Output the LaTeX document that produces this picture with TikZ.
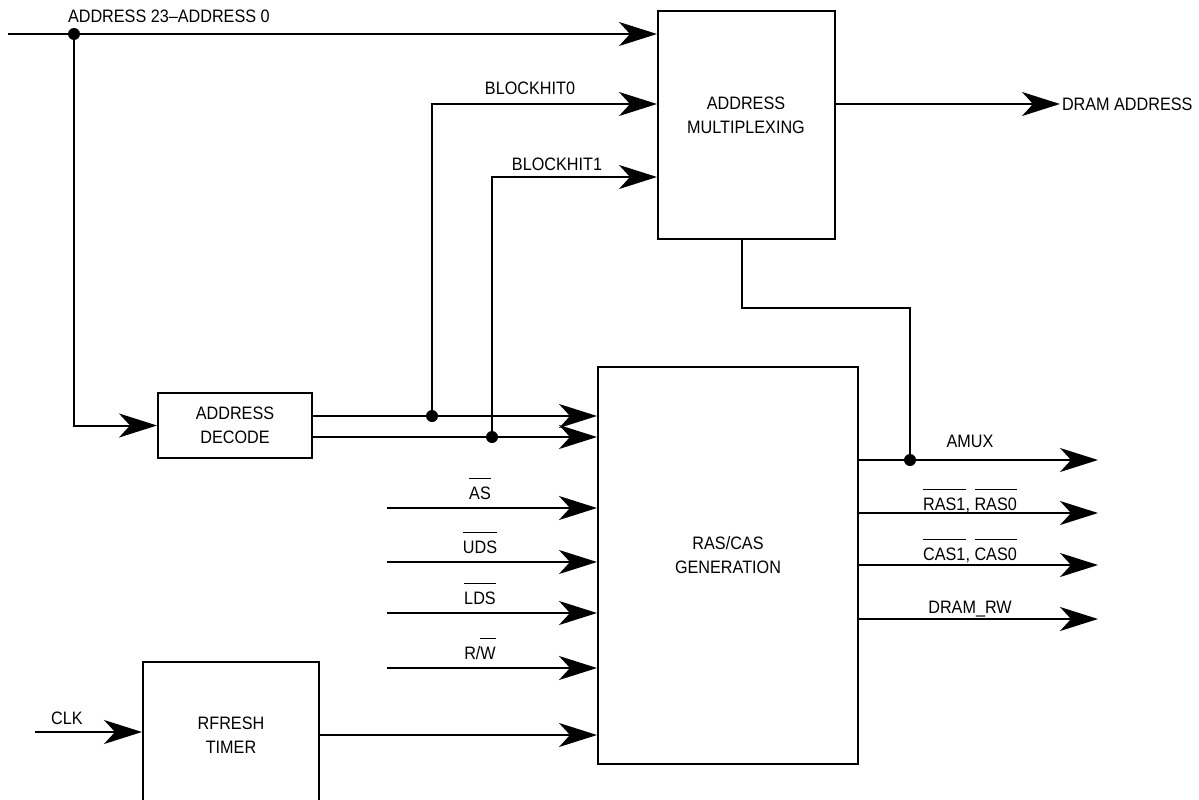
\documentclass[tikz,border=0pt]{standalone}
\usepackage{fontspec}
\setmainfont{Liberation Sans}[FakeStretch=0.9]
\usetikzlibrary{arrows.meta}

\newsavebox{\ovlbox}
\newcommand{\ovl}[1]{\sbox{\ovlbox}{#1}\rlap{\rule[20pt]{\wd\ovlbox}{1.5pt}}\usebox{\ovlbox}}

\newcommand{\jdot}[1]{
            \fill (#1) circle (6);
        }
\newcommand{\insig}[3]{
            \coordinate (#3) at (387, #1);
            \draw[sig] (#3) -- (#3 -| rascas.west);
            \node[lbl] (#3lbl) at (480, #1-9) {#2};
        }
\newcommand{\outsig}[4]{
            \coordinate (#4) at (1098, #1);
            \draw[sig] (#4 -| rascas.east) -- (#4);
            \node[lbl] (#4lbl) at (970, #2) {#3};
        }

\tikzset{
    sig/.style={-{Stealth[length=38pt, width=24pt, inset=11pt]}},
    box/.style={draw, line width=2, inner sep=0, align=center},
    lbl/.style={anchor=base, inner sep=0},
}

\begin{document}
\begin{tikzpicture}[x=1pt, y=-1pt, line width=2,
        every node/.style={font=\fontsize{18}{24}\selectfont}]
        \useasboundingbox (0, 0) rectangle (1199, 800);

        \node[box, minimum width=177, minimum height=228] (mux) at (746.5, 125) {};
        \node[align=center] (muxtxt) at (746, 115) {ADDRESS\\MULTIPLEXING};
        \node[box, minimum width=260, minimum height=397] (rascas) at (728, 565.5) {};
        \node[align=center] (rascastxt) at (728, 555) {RAS/CAS\\GENERATION};
        \node[box, minimum width=154, minimum height=65] (decode) at (235, 425.5) {ADDRESS\\DECODE};
        \node[box, minimum width=176, minimum height=146] (timer) at (231, 735) {RFRESH\\TIMER};

        \coordinate (addrin) at (8, 34);
        \coordinate (addrtap) at (74, 34);
        \coordinate (bh0) at (432, 416);
        \coordinate (bh1) at (492, 437);
        \coordinate (dramaddr) at (1060, 104);
        \coordinate (muxturn) at (910, 308);
        \coordinate (amuxtap) at (910, 460);
        \coordinate (clkin) at (35, 732);

        \draw[sig] (addrin) -- (addrin -| mux.west);
        \node[anchor=base west, inner sep=0] (addrlbl) at (67, 23) {ADDRESS 23--ADDRESS 0};
        \draw[sig] (addrtap) |- (decode.west);
        \jdot{addrtap}

        \draw[sig] (decode.east |- bh0) -- (bh0 -| rascas.west);
        \draw[sig] (decode.east |- bh1) -- (bh1 -| rascas.west);
        \draw[sig] (bh0) |- ([yshift=21]mux.west);
        \node[lbl] (bh0lbl) at (530, 94) {BLOCKHIT0};
        \draw[sig] (bh1) |- ([yshift=-52]mux.west);
        \node[lbl] (bh1lbl) at (557, 170) {BLOCKHIT1};
        \jdot{bh0}
        \jdot{bh1}

        \draw[sig] ([yshift=21]mux.east) -- (dramaddr);
        \node[anchor=west, inner sep=1] (dramlbl) at (dramaddr) {DRAM ADDRESS};

        \draw ([xshift=-4.5]mux.south) |- (muxturn) -- (amuxtap);
        \jdot{amuxtap}

        \insig{508}{\ovl{AS}}{as}
        \insig{562}{\ovl{UDS}}{uds}
        \insig{613}{\ovl{LDS}}{lds}
        \insig{668}{R/\ovl{W}}{rw}

        \outsig{460}{447}{AMUX}{amux}
        \outsig{513}{510}{\ovl{RAS1}, \ovl{RAS0}}{ras}
        \outsig{565}{560}{\ovl{CAS1}, \ovl{CAS0}}{cas}
        \outsig{619}{613}{DRAM\_RW}{dramrw}

        \draw[sig] (clkin) -- (clkin -| timer.west);
        \node[lbl] (clklbl) at (67, 724) {CLK};
        \draw[sig] (timer.east) -- (timer.east -| rascas.west);
\end{tikzpicture}
\end{document}
